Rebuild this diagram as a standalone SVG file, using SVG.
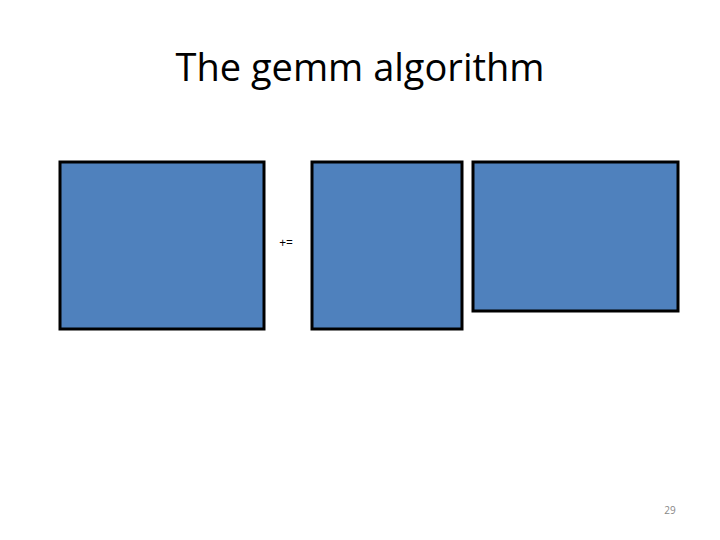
<svg xmlns="http://www.w3.org/2000/svg" width="720" height="540" viewBox="0 0 720 540">
<style>
.m{fill:#4F81BD;stroke:#000;stroke-width:3}
text{font-family:"Open Sans","Liberation Sans",sans-serif}
</style>
<rect width="720" height="540" fill="#fff"/>
<text x="360" y="81" font-size="38" text-anchor="middle" fill="#000">The gemm algorithm</text>
<g id="C"><rect class="m" x="60" y="162" width="204" height="167"/></g>
<g id="op"><text x="286" y="247" font-size="12" text-anchor="middle">+=</text></g>
<g id="A"><rect class="m" x="312" y="162" width="150" height="167"/></g>
<g id="B"><rect class="m" x="473" y="162" width="205" height="149"/></g>
<g id="connectors"/>
<text x="670" y="514" font-size="10" text-anchor="middle" fill="#888">29</text>
</svg>
